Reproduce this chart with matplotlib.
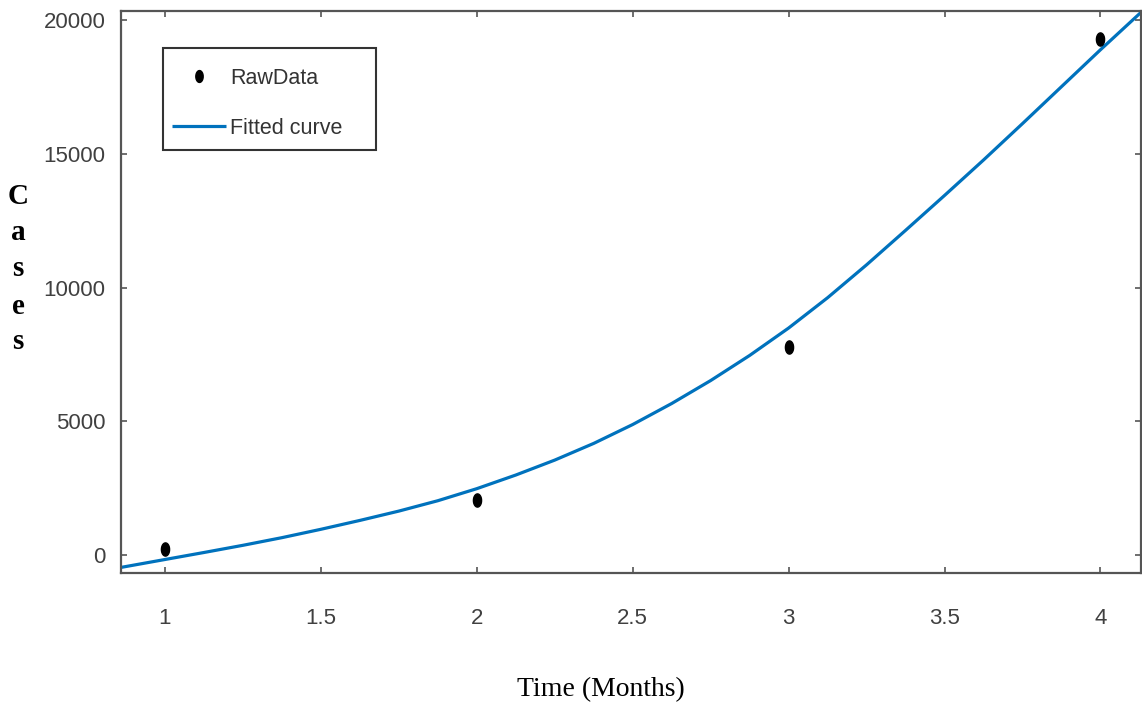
import numpy as np
import matplotlib

matplotlib.use("Agg")

import matplotlib.pyplot as plt
from matplotlib.patches import Rectangle

# raw monthly case counts
months = [1, 2, 3, 4]
cases = [210, 2060, 7790, 19320]

# fitted curve, sampled along the time axis
fit_x = [0.858, 1.0, 1.125, 1.25, 1.375, 1.5, 1.625, 1.75, 1.875, 2.0,
         2.125, 2.25, 2.375, 2.5, 2.625, 2.75, 2.875, 3.0, 3.125, 3.25,
         3.375, 3.5, 3.625, 3.75, 3.875, 4.0, 4.13]
fit_y = [-468, -170, 92, 361, 647, 960, 1292, 1641, 2029, 2480,
         2990, 3549, 4174, 4880, 5666, 6525, 7464, 8490, 9624, 10855,
         12144, 13450, 14776, 16138, 17519, 18900, 20300]

xticks = [1, 1.5, 2, 2.5, 3, 3.5, 4]
xtick_labels = ["1", "1.5", "2", "2.5", "3", "3.5", "4"]
yticks = [0, 5000, 10000, 15000, 20000]

W, H = 1142, 713
AX_L, AX_R, AX_T, AX_B = 120.7, 1141, 11, 573
fig = plt.figure(figsize=(W / 100, H / 100), dpi=100)
ax = fig.add_axes([AX_L / W, 1 - AX_B / H, (AX_R - AX_L) / W, (AX_B - AX_T) / H])


def px_to_axes(px, py):
    # pixel position in the figure -> axes fraction
    return (px - AX_L) / (AX_R - AX_L), (AX_B - py) / (AX_B - AX_T)


# elongated dot used by the raw data points
t = np.linspace(0, 2 * np.pi, 40)
dot = list(zip(0.62 * np.cos(t), np.sin(t)))

ax.plot(months, cases, linestyle="none", marker=dot, markersize=9.5,
        color="black", label="RawData", zorder=3)
ax.plot(fit_x, fit_y, color="#0072BD", linewidth=2.3, label="Fitted curve",
        solid_capstyle="butt", zorder=2)

ax.set_xlim(0.858, 4.13)
ax.set_ylim(-675, 20350)
ax.set_xticks(xticks)
ax.set_xticklabels(xtick_labels)
ax.set_yticks(yticks)

axis_grey = "#555555"
for s in ax.spines.values():
    s.set_color(axis_grey)
    s.set_linewidth(1.6)
ax.tick_params(direction="in", length=4.5, width=1.2, color=axis_grey,
               top=True, right=True, labelcolor="#404040", labelsize=16)
ax.tick_params(axis="x", pad=25)
ax.tick_params(axis="y", pad=11)
for lab in ax.get_xticklabels() + ax.get_yticklabels():
    lab.set_family(["Liberation Sans", "DejaVu Sans"])

fig.text(601 / W, 1 - 690 / H, "Time (Months)", family="Liberation Serif",
         fontsize=20, ha="center", va="center", color="black")

# y label written one letter per line
for ch, yp in zip("Cases", [197, 233, 269, 306, 342]):
    fig.text(18 / W, 1 - yp / H, ch, family="Liberation Serif",
             fontweight="bold", fontsize=21, ha="center", va="center",
             color="black")

# legend entries without a frame, box drawn separately
leg = ax.legend(loc="upper left", bbox_to_anchor=px_to_axes(172, 68),
                borderaxespad=0, borderpad=0, frameon=False,
                prop={"family": "Liberation Sans", "size": 15.5},
                handlelength=2.5, handletextpad=0.2,
                labelspacing=1.33, markerscale=0.9)
for txt in leg.get_texts():
    txt.set_color("#333333")

bx0, by0 = px_to_axes(163.3, 150)
bx1, by1 = px_to_axes(376, 47.7)
ax.add_patch(Rectangle((bx0, by0), bx1 - bx0, by1 - by0, transform=ax.transAxes,
                       facecolor="white", edgecolor="#333333", linewidth=1.5,
                       zorder=4))
leg.set_zorder(5)

fig.savefig("out.png", dpi=100)
